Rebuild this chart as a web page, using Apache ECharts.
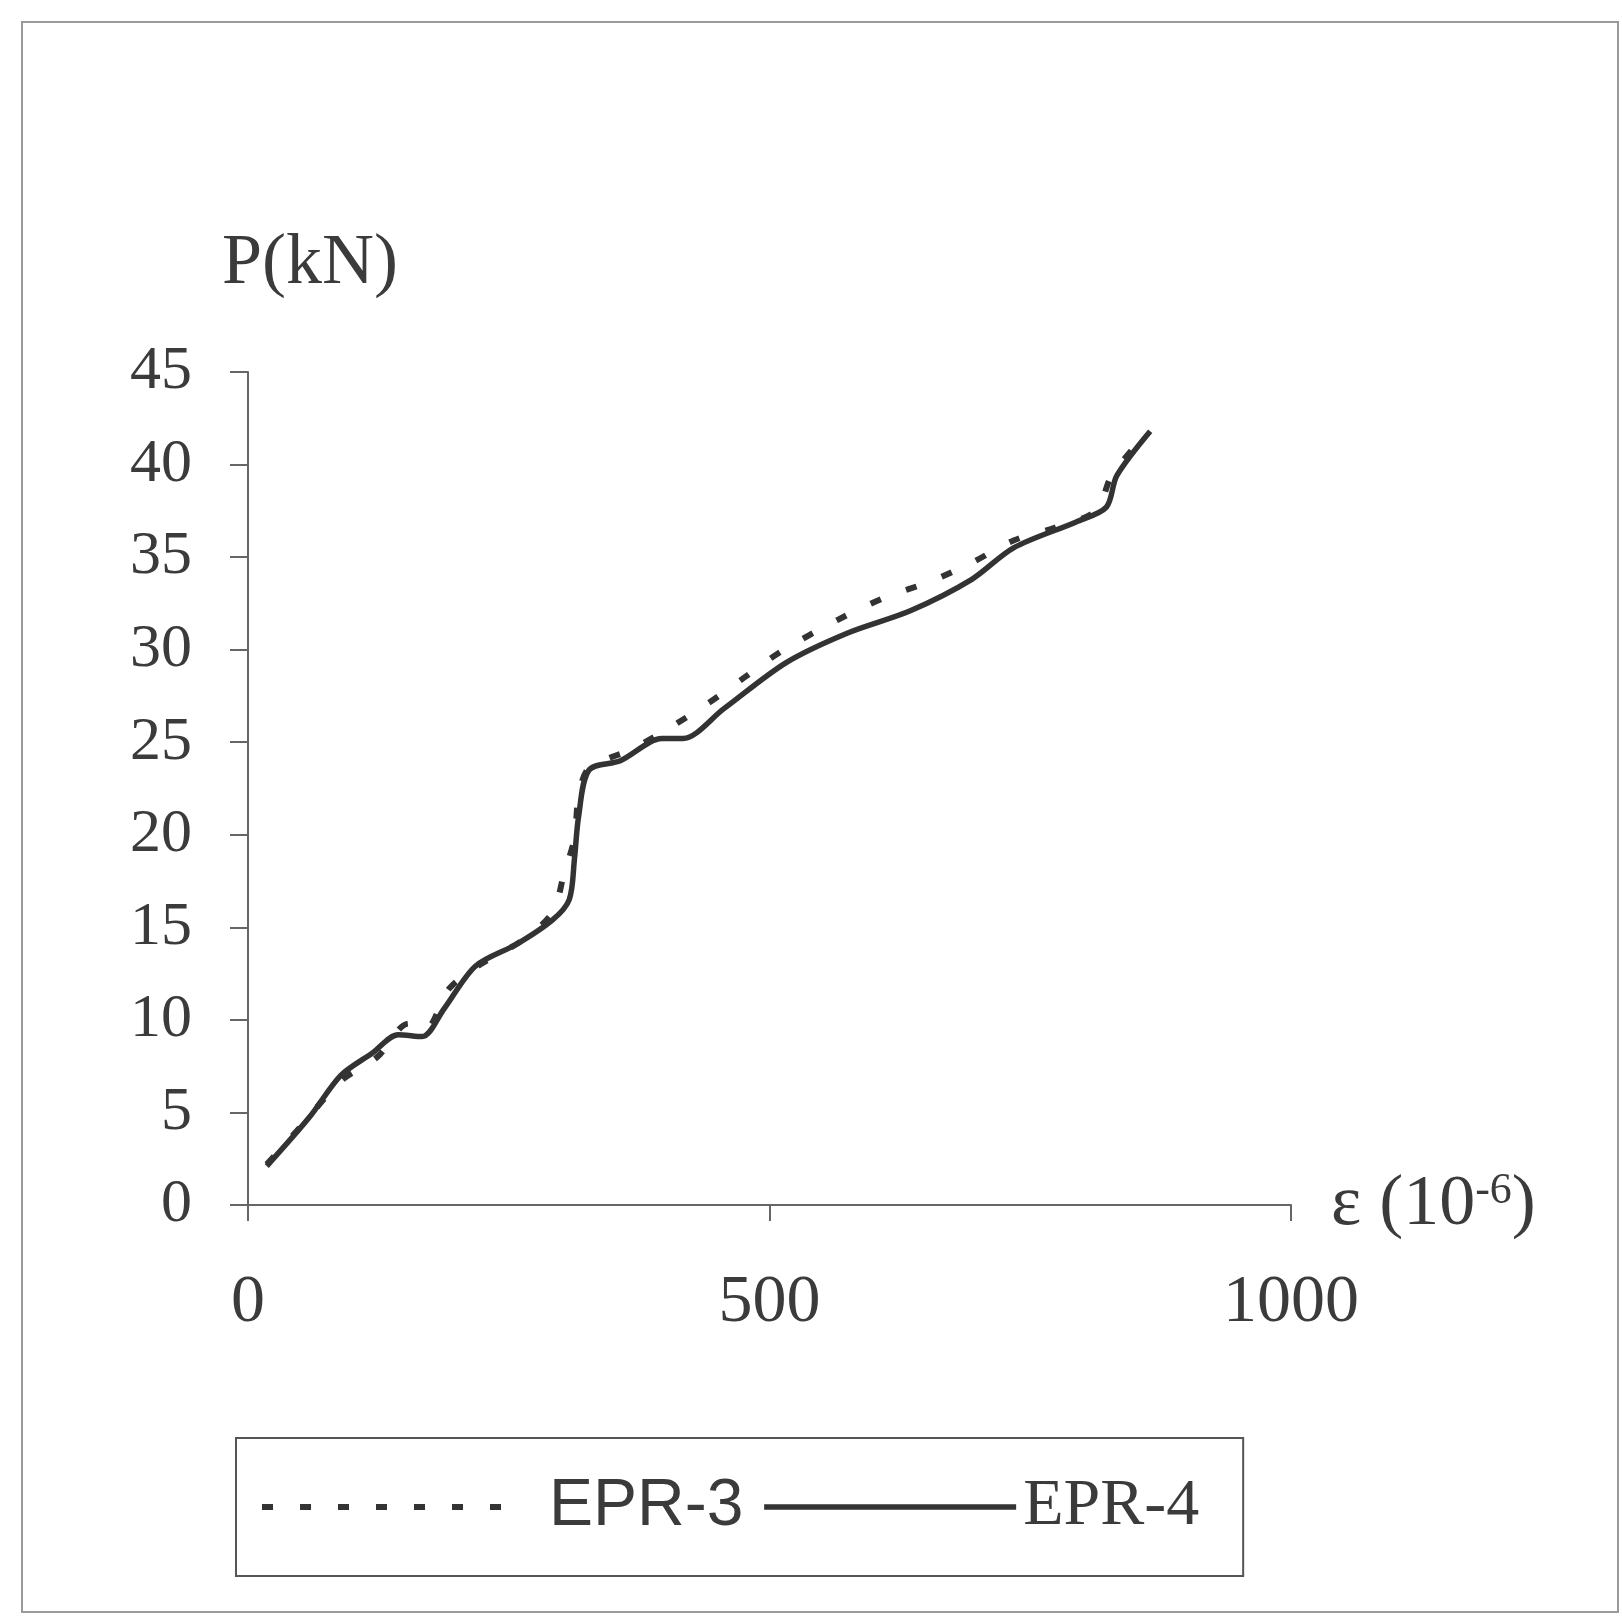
<!DOCTYPE html>
<html><head><meta charset="utf-8">
<script src="https://cdn.jsdelivr.net/npm/echarts@6/dist/echarts.min.js"></script>
<style>html,body{margin:0;padding:0;background:#fff}#c{width:1622px;height:1622px}</style>
</head><body><div id="c"></div>
<script>
// EPR-3 (dashed) strain (10^-6) and load (kN)
const epr3Strain = [18, 50, 89, 124, 154, 170, 193, 223, 263, 292, 303, 313, 317, 327, 367, 402, 441, 476, 511, 565, 610, 655, 694, 734, 774, 813, 828, 857];
const epr3Load   = [2.2, 4.2, 6.7, 8.0, 9.8, 9.5, 11.7, 13.0, 14.3, 15.8, 17.9, 19.8, 22.1, 23.6, 24.6, 25.7, 27.1, 28.5, 29.9, 31.6, 32.8, 33.7, 34.7, 35.9, 36.6, 37.5, 39.4, 41.4];
// EPR-4 (solid)
const epr4Strain = [18, 59, 89, 119, 144, 167, 188, 218, 258, 292, 308, 313, 317, 327, 357, 397, 417, 456, 516, 575, 635, 694, 734, 794, 823, 833, 865];
const epr4Load   = [2.1, 4.75, 7.0, 8.2, 9.2, 9.1, 10.6, 12.9, 14.1, 15.4, 16.5, 18.7, 21.0, 23.5, 24.0, 25.2, 25.2, 26.8, 29.3, 30.9, 32.1, 33.8, 35.5, 36.9, 37.7, 39.4, 41.8];
const xTicks = [0, 500, 1000];
const yTicks = [0, 5, 10, 15, 20, 25, 30, 35, 40, 45];

const pair = (xs, ys) => xs.map((x, i) => [x, ys[i]]);
const ink = '#3b3b3b';
const serif = '"Liberation Serif", "DejaVu Serif", serif';
const sans = '"Liberation Sans", Arial, sans-serif';
const dashStyle = {color: '#333', width: 6, type: [11, 27], cap: 'butt'};
const solidStyle = {color: '#333', width: 5.5, type: 'solid'};
const noSymbol = {color: 'rgba(0,0,0,0)', borderColor: 'rgba(0,0,0,0)', borderWidth: 0};

const chart = echarts.init(document.getElementById('c'));
chart.setOption({
  backgroundColor: '#fff',
  animation: false,
  graphic: [{
    type: 'rect', shape: {x: 22, y: 22, width: 1596, height: 1590},
    style: {fill: 'none', stroke: '#9a9a9a', lineWidth: 2}, silent: true
  }],
  grid: {left: 248, right: 331, top: 372, bottom: 417, containLabel: false},
  xAxis: {
    type: 'value', min: xTicks[0], max: xTicks[xTicks.length - 1], interval: 500,
    name: '{a|ε (10}{s|-6}{a|)}', nameLocation: 'end', nameGap: 40,
    nameTextStyle: {
      rich: {
        a: {fontFamily: serif, fontSize: 72, color: ink},
        s: {fontFamily: serif, fontSize: 44, color: ink, verticalAlign: 'top', padding: [0, 0, 28, 0]}
      }
    },
    axisLine: {lineStyle: {color: '#666', width: 2}},
    axisTick: {show: true, length: 16, inside: false, lineStyle: {color: '#666', width: 2}},
    axisLabel: {fontFamily: serif, fontSize: 68, color: ink, margin: 64,
      formatter: v => xTicks.includes(v) ? String(v) : ''},
    splitLine: {show: false}
  },
  yAxis: {
    type: 'value', min: yTicks[0], max: yTicks[yTicks.length - 1], interval: 5,
    name: 'P(kN)', nameLocation: 'end', nameGap: 72,
    nameTextStyle: {fontFamily: serif, fontSize: 72, color: ink, padding: [0, 0, 0, 124]},
    axisLine: {show: true, lineStyle: {color: '#666', width: 2}},
    axisTick: {show: true, length: 18, inside: false, lineStyle: {color: '#666', width: 2}},
    axisLabel: {fontFamily: serif, fontSize: 62, color: ink, margin: 56,
      formatter: v => yTicks.includes(v) ? String(v) : ''},
    splitLine: {show: false}
  },
  legend: {
    left: 236, top: 1438,
    orient: 'horizontal',
    itemWidth: 252, itemHeight: 14, itemGap: 18,
    padding: [36, 44, 36, 23],
    borderColor: '#555', borderWidth: 2,
    data: [
      {name: 'EPR-3', lineStyle: dashStyle, itemStyle: noSymbol},
      {name: 'EPR-4', lineStyle: solidStyle, itemStyle: noSymbol}
    ],
    formatter: n => n === 'EPR-3' ? '{a|EPR-3}' : '{b|EPR-4}',
    textStyle: {
      color: ink,
      rich: {
        a: {fontFamily: sans, fontSize: 66, color: ink, padding: [0, 0, 0, 30]},
        b: {fontFamily: serif, fontSize: 66, color: ink, padding: [0, 0, 0, 2]}
      }
    }
  },
  series: [
    {
      name: 'EPR-3', type: 'line', data: pair(epr3Strain, epr3Load),
      symbol: 'none', smooth: 0.3,
      lineStyle: dashStyle,
      itemStyle: {color: '#333'}, z: 3
    },
    {
      name: 'EPR-4', type: 'line', data: pair(epr4Strain, epr4Load),
      symbol: 'none', smooth: 0.3,
      lineStyle: solidStyle,
      itemStyle: {color: '#333'}, z: 2
    }
  ]
});
</script>
</body></html>
